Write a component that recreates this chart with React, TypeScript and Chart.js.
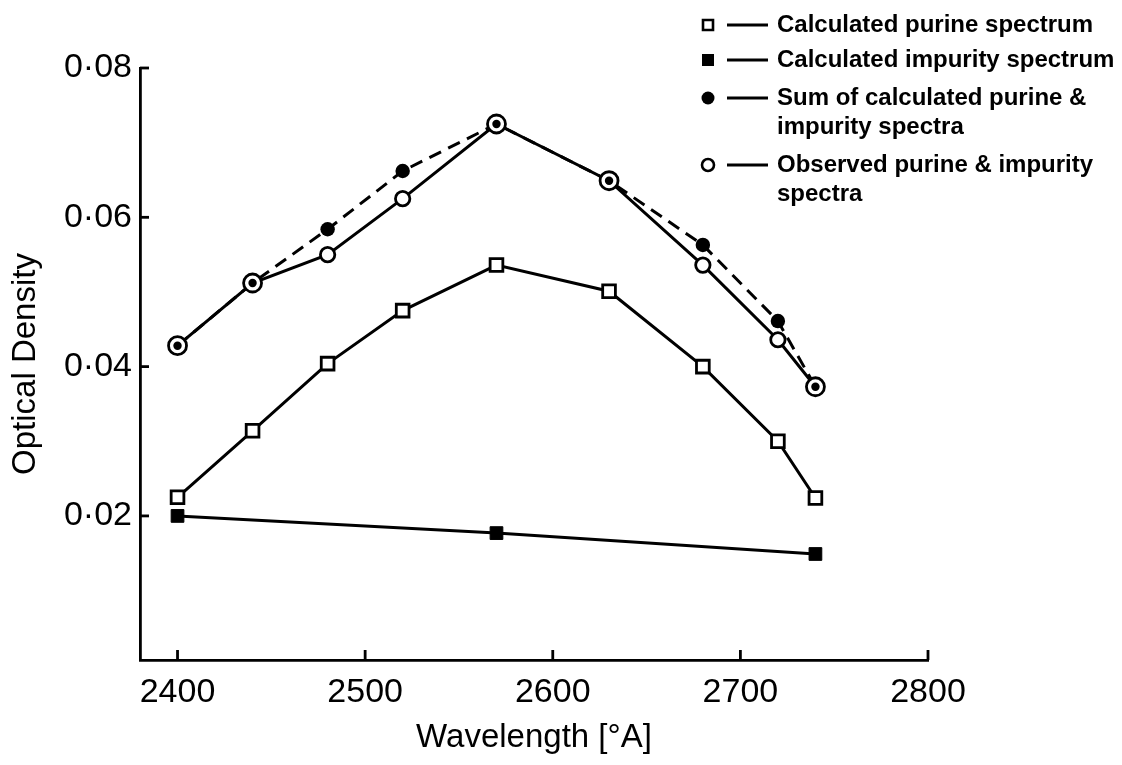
import React, { useEffect, useRef } from "react";
import { Chart, registerables } from "chart.js";

Chart.register(...registerables);

const wavelengths = [2400, 2440, 2480, 2520, 2570, 2630, 2680, 2720, 2740];
const purine = [0.0225, 0.0314, 0.0404, 0.0475, 0.0536, 0.0501, 0.04, 0.03, 0.0224];
const impurityWavelengths = [2400, 2570, 2740];
const impurity = [0.02, 0.0177, 0.0149];
const sumSpectra = [0.0428, 0.0512, 0.0584, 0.0662, 0.0725, 0.0649, 0.0563, 0.0461, 0.0373];
const observed = [0.0428, 0.0512, 0.055, 0.0625, 0.0725, 0.0649, 0.0536, 0.0436, 0.0373];
const xTicks = [2400, 2500, 2600, 2700, 2800];
const yTicks = [0.02, 0.04, 0.06, 0.08];
const legendLabels = [
  ["Calculated purine spectrum"],
  ["Calculated impurity spectrum"],
  ["Sum of calculated purine &", "impurity spectra"],
  ["Observed purine & impurity", "spectra"],
];
const legendMarkers = ["openSquare", "filledSquare", "filledCircle", "openCircle"];

const FONT = "'Liberation Sans', Arial, sans-serif";

const toXY = (xs: number[], ys: number[]) => xs.map((x, i) => ({ x, y: ys[i] }));
const coincident = (i: number) => Math.abs(sumSpectra[i] - observed[i]) < 1e-9;

const inwardTicks = {
  id: "inwardTicks",
  afterDraw(chart: any) {
    const { ctx, chartArea } = chart;
    const x = chart.scales.x;
    const y = chart.scales.y;
    ctx.save();
    ctx.strokeStyle = "#000";
    ctx.lineWidth = 2.8;
    x.ticks.forEach((t: any) => {
      const px = x.getPixelForValue(t.value);
      ctx.beginPath();
      ctx.moveTo(px, chartArea.bottom);
      ctx.lineTo(px, chartArea.bottom - 10);
      ctx.stroke();
    });
    y.ticks.forEach((t: any) => {
      const py = y.getPixelForValue(t.value);
      ctx.beginPath();
      ctx.moveTo(chartArea.left, py);
      ctx.lineTo(chartArea.left + 9, py);
      ctx.stroke();
    });
    ctx.restore();
  },
};

const customLegend = {
  id: "customLegend",
  afterDraw(chart: any) {
    const { ctx } = chart;
    const rowY = [25, 60, 98, 165];
    const lineGap = 29;
    const markerX = 708;
    ctx.save();
    ctx.font = `bold 24px ${FONT}`;
    ctx.fillStyle = "#000";
    ctx.strokeStyle = "#000";
    ctx.textBaseline = "middle";
    ctx.textAlign = "left";
    legendLabels.forEach((lines, i) => {
      const cy = rowY[i];
      const m = legendMarkers[i];
      ctx.lineWidth = 2.6;
      ctx.beginPath();
      if (m === "openSquare") {
        ctx.fillStyle = "#fff";
        ctx.rect(markerX - 5, cy - 5, 10, 10);
        ctx.fill();
        ctx.stroke();
      } else if (m === "filledSquare") {
        ctx.fillStyle = "#000";
        ctx.rect(markerX - 6, cy - 6, 12, 12);
        ctx.fill();
      } else if (m === "filledCircle") {
        ctx.fillStyle = "#000";
        ctx.arc(markerX, cy, 6.5, 0, Math.PI * 2);
        ctx.fill();
      } else {
        ctx.fillStyle = "#fff";
        ctx.arc(markerX, cy, 6, 0, Math.PI * 2);
        ctx.fill();
        ctx.stroke();
      }
      ctx.beginPath();
      ctx.lineWidth = 2.8;
      ctx.moveTo(727, cy);
      ctx.lineTo(768, cy);
      ctx.stroke();
      ctx.fillStyle = "#000";
      lines.forEach((line, j) => {
        ctx.fillText(line, 777, cy + j * lineGap);
      });
    });
    ctx.restore();
  },
};

export default function App() {
  const ref = useRef<HTMLCanvasElement>(null);

  useEffect(() => {
    if (!ref.current) return;
    const chart = new Chart(ref.current, {
      type: "line",
      data: {
        datasets: [
          {
            label: "Sum line",
            data: toXY(wavelengths, sumSpectra),
            borderColor: "#000",
            borderWidth: 3,
            borderDash: [13, 8],
            pointRadius: 0,
            fill: false,
            order: 5,
          },
          {
            label: "Calculated purine spectrum",
            data: toXY(wavelengths, purine),
            borderColor: "#000",
            borderWidth: 3,
            pointStyle: "rect",
            pointRadius: 9,
            pointBackgroundColor: "#fff",
            pointBorderColor: "#000",
            pointBorderWidth: 2.8,
            fill: false,
            order: 3,
          },
          {
            label: "Calculated impurity spectrum",
            data: toXY(impurityWavelengths, impurity),
            borderColor: "#000",
            borderWidth: 3,
            pointStyle: "rect",
            pointRadius: 9,
            pointBackgroundColor: "#000",
            pointBorderColor: "#000",
            pointBorderWidth: 1,
            fill: false,
            order: 3,
          },
          {
            label: "Observed purine & impurity spectra",
            data: toXY(wavelengths, observed),
            borderColor: "#000",
            borderWidth: 3,
            pointStyle: "circle",
            pointRadius: (c: any) => (coincident(c.dataIndex) ? 9 : 7.2),
            pointBackgroundColor: "#fff",
            pointBorderColor: "#000",
            pointBorderWidth: 2.8,
            fill: false,
            order: 2,
          },
          {
            label: "Sum of calculated purine & impurity spectra",
            data: toXY(wavelengths, sumSpectra),
            showLine: false,
            pointStyle: "circle",
            pointRadius: (c: any) => (coincident(c.dataIndex) ? 4.2 : 7.2),
            pointBackgroundColor: "#000",
            pointBorderColor: "#000",
            pointBorderWidth: 0,
            order: 1,
          },
        ],
      },
      options: {
        responsive: false,
        animation: false,
        layout: { padding: { top: 68, right: 194, left: 0, bottom: 0 } },
        plugins: {
          legend: { display: false },
          tooltip: { enabled: false },
        },
        scales: {
          x: {
            type: "linear",
            min: 2380,
            max: 2800,
            afterBuildTicks: (s: any) => {
              s.ticks = xTicks.map((v) => ({ value: v }));
            },
            afterFit: (s: any) => {
              s.height = 105;
            },
            grid: { display: false, drawTicks: false },
            border: { display: true, color: "#000", width: 2.8 },
            ticks: {
              color: "#000",
              padding: 12,
              font: { family: FONT, size: 34 },
              callback: (v: any) => String(v),
              maxRotation: 0,
            },
            title: {
              display: true,
              text: "Wavelength [°A]",
              color: "#000",
              font: { family: FONT, size: 33 },
              padding: { top: 0, bottom: 7 },
            },
          },
          y: {
            type: "linear",
            min: 0.0007,
            max: 0.08,
            afterBuildTicks: (s: any) => {
              s.ticks = yTicks.map((v) => ({ value: v }));
            },
            afterFit: (s: any) => {
              s.width = 140;
            },
            grid: { display: false, drawTicks: false },
            border: { display: true, color: "#000", width: 2.8 },
            ticks: {
              color: "#000",
              padding: 8,
              font: { family: FONT, size: 34 },
              callback: (v: any) => "0·" + String(Math.round(Number(v) * 100)).padStart(2, "0"),
            },
            title: {
              display: true,
              text: "Optical Density",
              color: "#000",
              font: { family: FONT, size: 33 },
              padding: { top: 6, bottom: 0 },
            },
          },
        },
      },
      plugins: [inwardTicks, customLegend],
    } as any);
    return () => chart.destroy();
  }, []);

  return (
    <div style={{ position: "absolute", left: 0, top: 0, width: 1122, height: 765, background: "#fff" }}>
      <canvas ref={ref} width={1122} height={765} />
    </div>
  );
}
